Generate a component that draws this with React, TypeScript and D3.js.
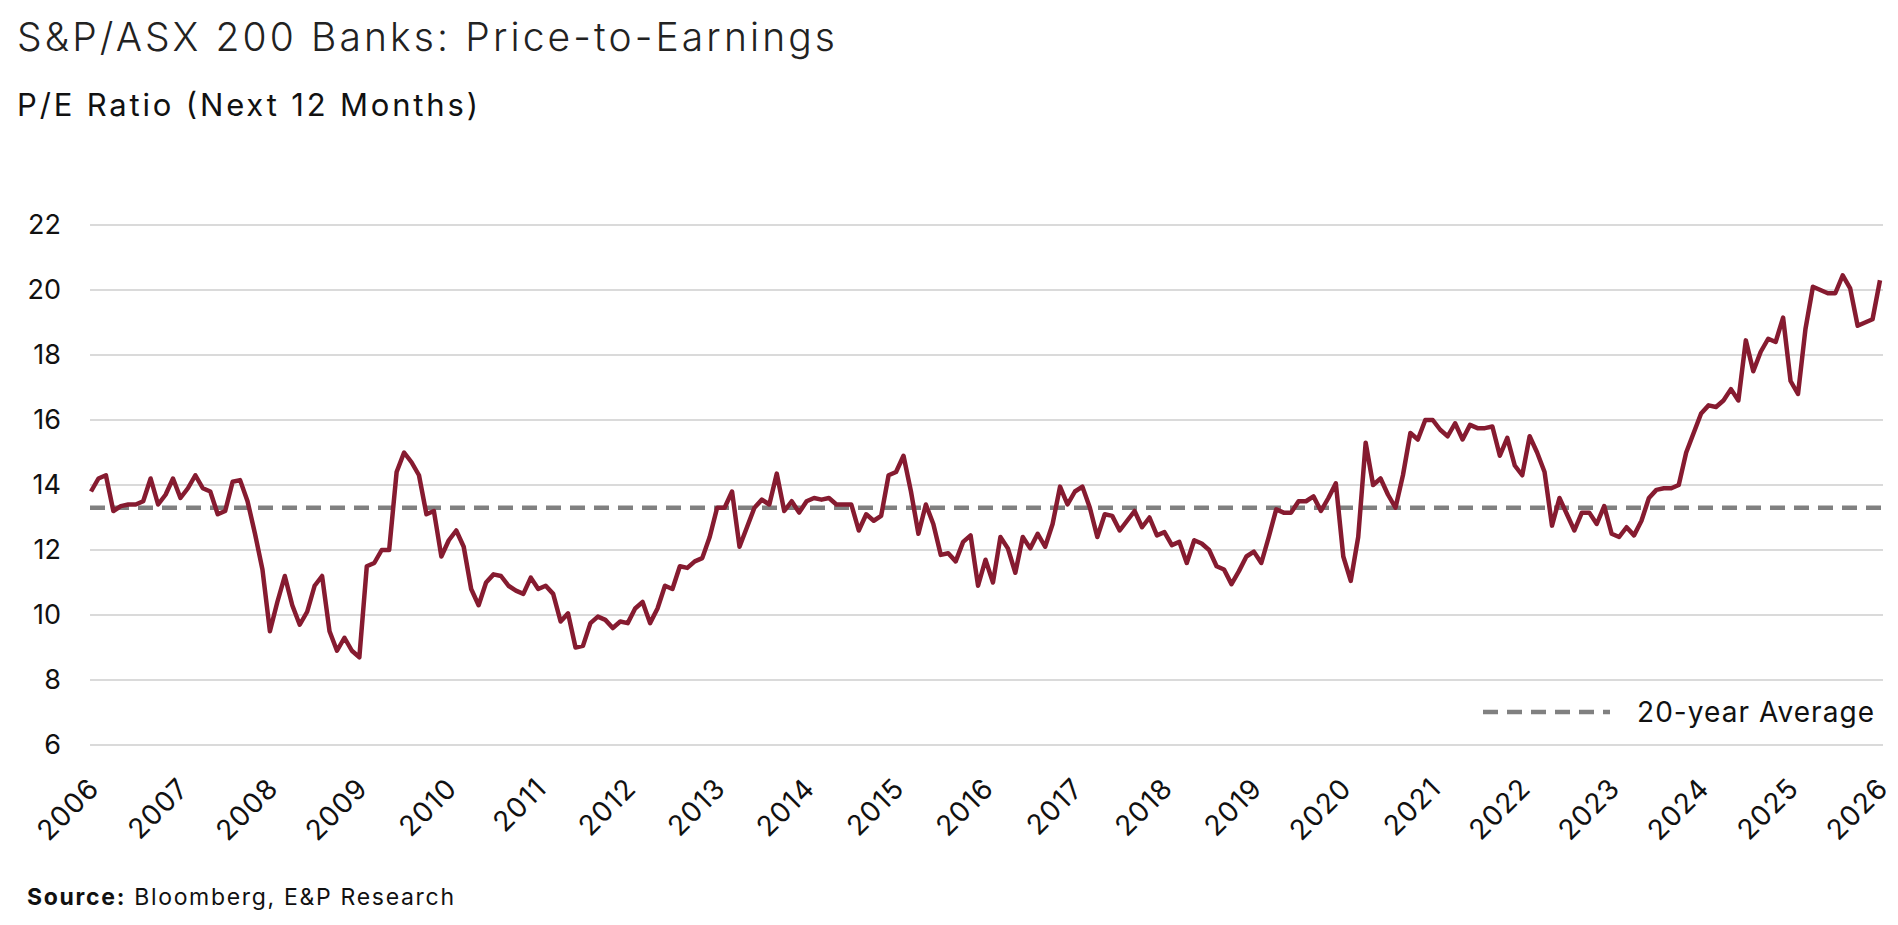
import React from "react";
import * as d3 from "d3";

const years = d3.range(2006, 2027);
const yTicks = [6, 8, 10, 12, 14, 16, 18, 20, 22];
const average = 13.3;
const pe: number[] = [
  13.8, 14.2, 14.3, 13.2, 13.35, 13.4, 13.4, 13.5, 14.2, 13.4, 13.7, 14.2,
  13.6, 13.9, 14.3, 13.9, 13.8, 13.1, 13.2, 14.1, 14.15, 13.5, 12.5, 11.4,
  9.5, 10.4, 11.2, 10.3, 9.7, 10.1, 10.9, 11.2, 9.5, 8.9, 9.3, 8.9,
  8.7, 11.5, 11.6, 12.0, 12.0, 14.4, 15.0, 14.7, 14.3, 13.1, 13.2, 11.8,
  12.3, 12.6, 12.1, 10.8, 10.3, 11.0, 11.25, 11.2, 10.9, 10.75, 10.65, 11.15,
  10.8, 10.9, 10.65, 9.8, 10.05, 9.0, 9.05, 9.75, 9.95, 9.85, 9.6, 9.8,
  9.75, 10.2, 10.4, 9.75, 10.2, 10.9, 10.8, 11.5, 11.45, 11.65, 11.75, 12.4,
  13.3, 13.3, 13.8, 12.1, 12.7, 13.3, 13.55, 13.4, 14.35, 13.2, 13.5, 13.15,
  13.5, 13.6, 13.55, 13.6, 13.4, 13.4, 13.4, 12.6, 13.1, 12.9, 13.05, 14.3,
  14.4, 14.9, 13.8, 12.5, 13.4, 12.8, 11.85, 11.9, 11.65, 12.25, 12.45, 10.9,
  11.7, 11.0, 12.4, 12.05, 11.3, 12.4, 12.05, 12.5, 12.1, 12.8, 13.95, 13.4,
  13.8, 13.95, 13.3, 12.4, 13.1, 13.05, 12.6, 12.9, 13.2, 12.7, 13.0, 12.45,
  12.55, 12.15, 12.25, 11.6, 12.3, 12.2, 12.0, 11.5, 11.4, 10.95, 11.35, 11.8,
  11.95, 11.6, 12.4, 13.25, 13.15, 13.15, 13.5, 13.5, 13.65, 13.2, 13.6, 14.05,
  11.8, 11.05, 12.4, 15.3, 14.0, 14.2, 13.7, 13.3, 14.3, 15.6, 15.4, 16.0,
  16.0, 15.7, 15.5, 15.9, 15.4, 15.85, 15.75, 15.75, 15.8, 14.9, 15.45, 14.6,
  14.3, 15.5, 15.0, 14.4, 12.75, 13.6, 13.1, 12.6, 13.15, 13.15, 12.8, 13.35,
  12.5, 12.4, 12.7, 12.45, 12.9, 13.6, 13.85, 13.9, 13.9, 14.0, 15.0, 15.6,
  16.2, 16.45, 16.4, 16.6, 16.95, 16.6, 18.45, 17.5, 18.1, 18.5, 18.4, 19.15,
  17.2, 16.8, 18.8, 20.1, 20.0, 19.9, 19.9, 20.45, 20.05, 18.9, 19.0, 19.1,
  20.3,
];

const FONT = "Inter, 'Noto Sans', sans-serif";

export default function App() {
  const left = 90, right = 1883, top = 225, bottom = 745;
  const x = d3.scaleLinear().domain([2006, 2026]).range([91, 1880]);
  const y = d3.scaleLinear().domain([6, 22]).range([bottom, top]);
  const line = d3
    .line<number>()
    .x((_, i) => x(2006 + i / 12))
    .y((d) => y(d));
  return (
    <svg width={1898} height={925} style={{ position: "absolute", left: 0, top: 0, background: "#fff" }} fontFamily={FONT}>
      <text x={17} y={51} fontSize={39} fill="#222" fontWeight={300} textLength={818} lengthAdjust="spacing">S&amp;P/ASX 200 Banks: Price-to-Earnings</text>
      <text x={17} y={116} fontSize={31} fill="#111" textLength={461} lengthAdjust="spacing">P/E Ratio (Next 12 Months)</text>
      {yTicks.map((t) => (
        <g key={t}>
          <line x1={left} x2={right} y1={y(t)} y2={y(t)} stroke="#dadada" strokeWidth={2} />
          <text x={61} y={y(t)} dy="0.35em" textAnchor="end" fontSize={27} fill="#111">{t}</text>
        </g>
      ))}
      <line x1={left} x2={right} y1={y(average)} y2={y(average)} stroke="#808080" strokeWidth={4.5} strokeDasharray="15 9" />
      <path d={line(pe) ?? ""} fill="none" stroke="#861b30" strokeWidth={4.5} strokeLinejoin="round" />
      {years.map((yr) => (
        <text key={yr} transform={`translate(${x(yr) + 10},${790}) rotate(-45)`} textAnchor="end" fontSize={28} fill="#111" letterSpacing={1}>{yr}</text>
      ))}
      <line x1={1483} x2={1610} y1={712} y2={712} stroke="#808080" strokeWidth={4.5} strokeDasharray="15 9" />
      <text x={1637} y={712} dy="0.35em" fontSize={28} fill="#111" textLength={237} lengthAdjust="spacing">20-year Average</text>
      <text x={27} y={905} fontSize={23} fill="#111" textLength={427} lengthAdjust="spacing"><tspan fontWeight={700}>Source:</tspan> Bloomberg, E&amp;P Research</text>
    </svg>
  );
}
